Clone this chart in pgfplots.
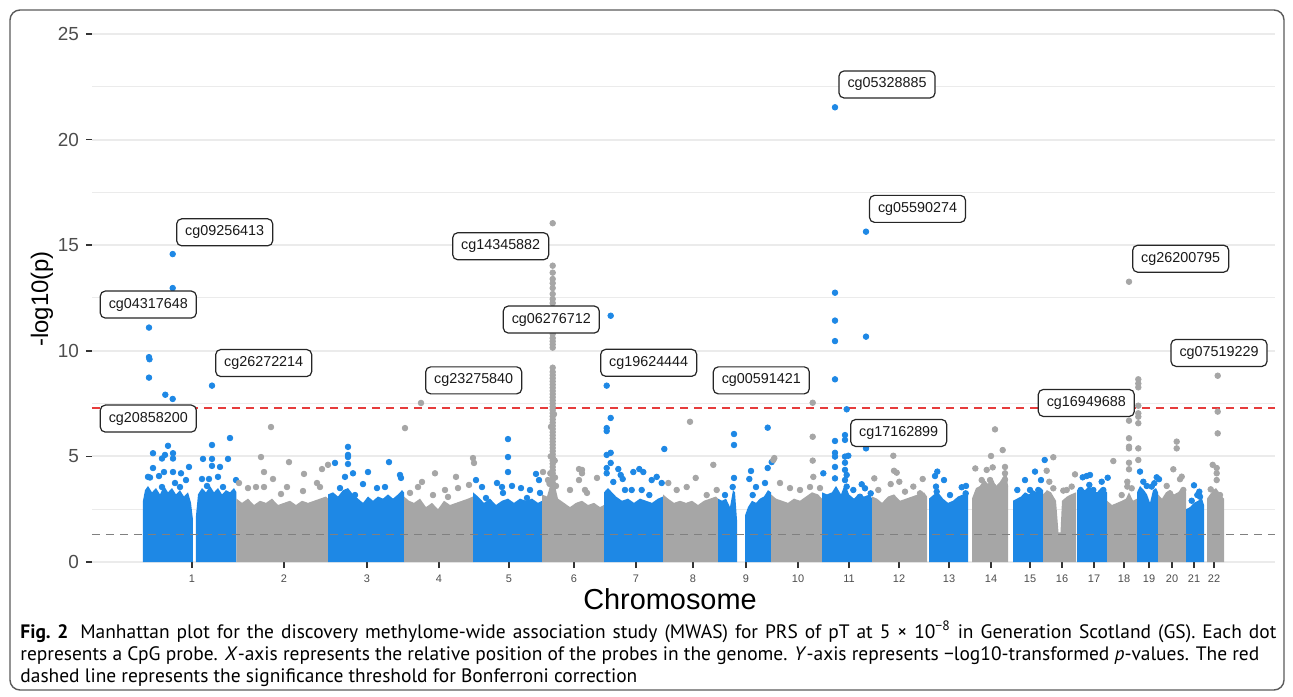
\documentclass[border=0pt]{standalone}
\usepackage{pgfplots}
\pgfplotsset{compat=1.18}
\usepackage{fontspec}
\setmainfont{Liberation Sans}
\newfontfamily\capfont{PT Sans}
\definecolor{dotblue}{RGB}{30,136,229}
\definecolor{dotgray}{RGB}{166,166,166}
\definecolor{gridgray}{RGB}{235,235,235}
\definecolor{tickgray}{RGB}{77,77,77}
\definecolor{sigred}{RGB}{230,60,60}
\definecolor{boxgray}{RGB}{90,90,90}

\begin{document}
\begin{tikzpicture}
% page = 1293 x 697 px at 0.5bp per px; axis SW corner = pixel (92,562)
\path[use as bounding box] (-46bp,281bp) rectangle (600.5bp,-67.5bp);
\begin{axis}[
    scale only axis,
    width=591.5bp, height=264bp,
    xmin=92, xmax=1275, ymin=0, ymax=25,
    axis lines*=left,
    axis line style={draw=none},
    tick align=outside,
    major tick length=3bp,
    minor tick length=0pt,
    tick style={draw=black!80, line width=0.8bp},
    xtick={192,284,367,439,509,574,636,693,746,798,849,899,949,991,1030,1062,1094,1124,1149,1172,1194,1214},
    xticklabels={1,2,3,4,5,6,7,8,9,10,11,12,13,14,15,16,17,18,19,20,21,22},
    ytick={0,5,10,15,20,25},
    minor ytick={2.5,7.5,12.5,17.5,22.5},
    ymajorgrids, yminorgrids,
    major grid style={draw=gridgray, line width=1bp},
    minor grid style={draw=gridgray, line width=0.5bp},
    /pgf/number format/assume math mode=true,
    x tick label style={font=\fontsize{5.5}{6}\selectfont, text=tickgray},
    y tick label style={font=\fontsize{9.5}{10}\selectfont, text=tickgray},
    clip=false,
]
% dense bands (x in pixel units, y = -log10 p)
\addplot[fill=dotblue, draw=none] coordinates {(143,2.9)(145,3.4)(148,3.6)(152,3.3)(156,3.5)(160,3.2)(164,3.6)(168,3.3)(172,3.5)(176,3.2)(180,3.4)(184,3.1)(188,3.3)(191,2.8)(193,2.0)} \closedcycle;
\addplot[fill=dotblue, draw=none] coordinates {(196,2.2)(198,3.2)(202,3.5)(206,3.3)(210,3.6)(214,3.3)(218,3.5)(222,3.2)(226,3.4)(230,3.3)(234,3.5)(236.5,3.3)} \closedcycle;
\addplot[fill=dotgray, draw=none] coordinates {(236.5,3.0)(242,2.8)(248,3.0)(254,2.7)(260,2.9)(266,2.8)(272,3.0)(278,2.7)(284,2.8)(290,2.9)(296,2.7)(302,2.9)(308,2.8)(314,2.9)(320,3.0)(326,3.1)(328,3.0)} \closedcycle;
\addplot[fill=dotblue, draw=none] coordinates {(328,3.2)(333,3.3)(338,3.1)(343,3.4)(348,3.5)(353,3.2)(358,3.0)(363,2.8)(368,3.1)(373,2.9)(378,3.1)(383,3.0)(388,3.2)(393,3.0)(398,3.2)(402,3.4)(404,3.3)} \closedcycle;
\addplot[fill=dotgray, draw=none] coordinates {(404,3.1)(409,2.9)(414,2.8)(420,3.0)(426,2.6)(432,2.8)(438,2.5)(444,2.9)(450,2.7)(456,2.8)(462,2.9)(468,3.0)(473,3.1)} \closedcycle;
\addplot[fill=dotblue, draw=none] coordinates {(473,3.3)(478,3.1)(484,2.8)(490,3.0)(496,2.7)(502,2.9)(508,3.0)(514,2.8)(520,3.0)(526,2.9)(532,3.0)(538,2.8)(542,2.9)} \closedcycle;
\addplot[fill=dotgray, draw=none] coordinates {(542,3.2)(547,3.1)(550,3.6)(552.7,5.0)(555,3.6)(558,3.0)(564,2.8)(570,2.6)(576,2.8)(582,2.9)(588,2.7)(594,2.8)(600,2.6)(604,2.7)} \closedcycle;
\addplot[fill=dotblue, draw=none] coordinates {(604,3.3)(608,3.5)(612,3.3)(616,3.1)(622,2.9)(628,3.0)(634,2.8)(640,3.0)(646,2.9)(652,2.8)(658,3.0)(663,3.1)} \closedcycle;
\addplot[fill=dotgray, draw=none] coordinates {(663,3.2)(668,3.0)(674,2.8)(680,2.9)(686,2.8)(692,2.9)(698,2.7)(704,2.9)(710,3.0)(716,3.1)(718,3.0)} \closedcycle;
\addplot[fill=dotblue, draw=none] coordinates {(718,3.0)(722,2.9)(726,3.0)(730,2.6)(733,3.4)(735,3.3)(737,2.0)} \closedcycle;
\addplot[fill=dotblue, draw=none] coordinates {(745,2.2)(748,2.6)(752,2.9)(756,2.8)(760,3.0)(764,3.1)(768,3.4)(771,3.3)} \closedcycle;
\addplot[fill=dotgray, draw=none] coordinates {(771,3.2)(776,3.0)(782,2.9)(788,2.8)(794,3.0)(800,2.9)(806,3.1)(812,3.3)(818,3.2)(822,3.0)} \closedcycle;
\addplot[fill=dotblue, draw=none] coordinates {(822,3.3)(827,3.2)(832,3.3)(836,3.6)(841,3.2)(845,3.7)(849,3.2)(854,3.0)(858,3.2)(864,3.1)(870,3.2)(872,3.0)} \closedcycle;
\addplot[fill=dotgray, draw=none] coordinates {(872,3.1)(877,3.0)(882,2.8)(888,3.1)(894,3.2)(900,2.9)(906,3.0)(912,3.1)(918,3.2)(924,3.3)(927,3.1)} \closedcycle;
\addplot[fill=dotblue, draw=none] coordinates {(929,3.0)(934,3.2)(938,3.3)(943,3.0)(948,2.8)(953,2.9)(958,3.1)(963,3.2)(968,3.3)} \closedcycle;
\addplot[fill=dotgray, draw=none] coordinates {(972,3.0)(976,3.5)(980,3.6)(984,3.9)(988,3.7)(992,4.0)(996,3.6)(1000,3.8)(1004,4.1)(1006,4.4)(1008,3.6)} \closedcycle;
\addplot[fill=dotblue, draw=none] coordinates {(1013,2.9)(1017,3.0)(1021,3.1)(1025,3.3)(1029,3.2)(1033,3.4)(1037,3.3)(1041,3.5)(1043,3.4)} \closedcycle;
\addplot[fill=dotgray, draw=none] coordinates {(1043,3.2)(1047,3.4)(1051,3.3)(1056,2.9)(1058.5,1.4)(1060.5,1.4)(1062,2.9)(1067,3.1)(1071,3.2)(1076,3.3)} \closedcycle;
\addplot[fill=dotblue, draw=none] coordinates {(1077,3.4)(1081,3.5)(1085,3.4)(1089,3.6)(1093,3.4)(1097,3.3)(1101,3.5)(1105,3.4)(1107,3.3)} \closedcycle;
\addplot[fill=dotgray, draw=none] coordinates {(1107,2.9)(1112,2.7)(1117,2.8)(1122,2.9)(1126,3.0)(1129,3.3)(1133,2.9)(1137,3.0)} \closedcycle;
\addplot[fill=dotblue, draw=none] coordinates {(1137,3.3)(1140,3.6)(1144,3.4)(1147,3.2)(1150,2.8)(1153,3.4)(1156,3.5)(1158,3.3)} \closedcycle;
\addplot[fill=dotgray, draw=none] coordinates {(1158,3.2)(1162,3.0)(1166,3.3)(1170,3.4)(1174,3.2)(1178,3.3)(1182,3.5)(1186,3.3)} \closedcycle;
\addplot[fill=dotblue, draw=none] coordinates {(1186,2.5)(1190,2.6)(1194,2.8)(1198,2.9)(1202,3.0)(1204,2.7)} \closedcycle;
\addplot[fill=dotgray, draw=none] coordinates {(1207,3.0)(1210,3.2)(1213,3.4)(1216,3.5)(1219,3.3)(1222,3.1)(1224,3.0)} \closedcycle;

% individual probes above the bands
\addplot[only marks, mark=*, mark size=1.4pt, color=dotblue] coordinates {
(172.7,14.58)(172.7,12.97)(149,11.1)(149,9.7)(149.5,9.6)(149,8.73)(165.3,7.92)(172.7,7.72)(212,8.35)
(168,5.5)(153,5.15)(162,4.9)(165,5.07)(173,5.15)(173,4.9)(153,4.45)(159,4.07)(164,4.26)(173,4.26)(181,4.2)(186,3.88)(189,4.5)(162,3.55)(175,3.74)(180,3.55)(150,4.0)(148,4.03)
(212,5.54)(230,5.87)(203,4.88)(212,4.88)(228,4.88)(212,4.55)(220,4.5)(202,3.93)(209,3.93)(218,4.03)(236,3.88)(207,3.6)(223,3.55)
(348,5.45)(348,5.07)(348,4.64)(335,4.69)(389,4.73)(400,4.12)(401,3.98)(368,4.26)(345,4.03)(353,4.2)(363,3.69)(377,3.5)(385,3.55)(355,3.17)(340,3.5)(348,4.97)
(508,5.82)(508,4.97)(508,4.26)(476,3.88)(482,3.55)(497,3.74)(502,3.55)(512,3.6)(521,3.5)(530,3.41)(536,4.17)(539,3.88)(486,3.03)(503,3.27)(527,3.03)(540,3.27)
(610.7,11.66)(606.7,8.35)(610.7,6.82)(606.7,6.34)(606.7,6.2)(606.7,5.07)(610.7,5.17)(610.7,4.69)(606.7,4.45)(606.7,4.2)(618.3,4.4)(620.7,4.12)(622.7,3.93)(613.3,3.79)(633.3,4.26)(639.3,4.4)(643.3,4.26)(664.3,5.35)(651.7,3.88)(656.7,4.03)(625,3.41)(631.7,3.41)(641.7,3.41)(661.7,3.74)(649.3,3.17)
(734,6.06)(734,5.54)(734,3.98)(732.7,3.55)(767.7,6.36)(751,4.31)(749.3,3.93)(767.7,4.45)(771.7,4.73)(765,3.74)(756,3.55)(752.7,3.17)(725,3.17)
(835,21.53)(835,12.75)(835,11.43)(835,10.46)(835,8.65)(846.7,7.23)(866,15.64)(866,10.67)(835,5.73)(845,6.01)(845,5.78)(835,5.17)(835,4.99)(845,4.99)(848.3,5.03)(866,5.38)(823.3,4.2)(835,3.96)(845,4.36)(846.7,4.12)(845,3.88)(846.7,3.57)(861.7,3.68)(865,3.49)(870.7,3.25)(853.3,3.41)(860,3.09)(835,4.5)(845,4.7)
(937.3,4.28)(935,4.07)(944,3.88)(936,3.57)(936.7,3.33)(961.7,3.54)(966,3.6)(950,3.17)(965.7,3.25)
(1044.7,4.83)(1035,4.28)(1041,3.88)(1025,3.88)(1017.3,3.41)(1030,3.41)(1038.3,3.41)
(1082.7,4.01)(1086.7,4.07)(1090,4.12)(1080.7,3.41)(1089.3,3.65)(1093.3,3.41)(1101.7,3.8)(1107.7,3.99)(1103.3,3.41)
(1140,4.28)(1143.3,3.8)(1146.7,3.6)(1156.7,4.01)(1159,3.92)(1151.7,3.57)(1154.3,3.73)
(1194,3.63)(1191.7,2.9)(1199.3,3.33)(1200,3.09)(1197.3,3.17)
};
\addplot[only marks, mark=*, mark size=1.4pt, color=dotgray] coordinates {
(271,6.39)(261,4.97)(289,4.73)(264,4.26)(304,4.17)(328,4.6)(322,4.4)(239,3.74)(248,3.5)(256,3.55)(273,3.93)(264,3.55)(287,3.55)(317,3.74)(320,3.55)(303,3.36)(281,3.22)
(421,7.53)(405,6.34)(435,4.2)(456,4.03)(422,3.79)(418,3.55)(445,3.41)(469,3.65)(473,4.92)(474,4.69)(410,3.27)(433,3.17)(448,3.08)(458,3.5)
(552.7,16.04)(552.7,14.03)(552.7,13.7)(552.7,13.4)(552.7,13.2)(552.7,12.97)(552.7,12.69)(552.7,12.45)(552.7,12.26)(552.7,12.0)(552.7,11.8)(552.7,11.6)(552.7,11.4)(552.7,11.2)(552.7,11.0)(552.7,10.8)(552.7,10.6)(552.7,10.45)(552.7,10.3)(552.7,10.15)
(552.7,9.2)(552.7,9.0)(552.7,8.85)(552.7,8.7)(552.7,8.55)(552.7,8.4)(552.7,8.25)(552.7,8.1)(552.7,7.95)(552.7,7.8)(552.7,7.65)(552.7,7.5)(552.7,7.35)(552.7,7.2)(552.7,7.05)(552.7,6.9)(552.7,6.75)(552.7,6.6)(552.7,6.45)(552.7,6.3)(552.7,6.15)(552.7,6.0)(552.7,5.85)(552.7,5.7)(552.7,5.55)(552.7,5.4)(552.7,5.25)(552.7,5.1)(552.7,4.95)(552.7,4.8)(552.7,4.65)(552.7,4.5)(552.7,4.35)(552.7,4.2)(552.7,4.05)(552.7,3.9)(552.7,3.75)(552.7,3.6)(552.7,3.45)(552.7,3.3)
(550.7,5.0)(554.7,4.8)(550.3,4.2)(555,4.0)(549.5,3.7)(556,3.6)(551,6.4)(554,7.0)
(579,4.4)(582,4.2)(579,3.88)(543,4.26)(548,3.88)(570,3.41)(585,3.41)(582,4.36)(597,3.98)(587,3.27)
(690,6.64)(713.3,4.6)(695.7,3.98)(686.7,3.55)(676.7,3.41)(668.3,3.74)(706.7,3.17)(716.7,3.41)
(812.7,7.54)(812.7,5.93)(812.7,4.8)(773.3,4.83)(774.3,4.92)(813.3,4.03)(810,3.55)(820,3.5)(780,3.74)(790,3.5)(800,3.41)
(893.3,5.03)(894,4.32)(896.7,4.23)(874.3,3.96)(899.3,3.8)(922.7,3.93)(890.7,3.69)(913.3,3.57)(878.3,3.41)(905,3.33)(920,3.25)
(995,6.28)(1002.7,5.3)(991,5.02)(975.3,4.43)(986.7,4.36)(992.7,4.48)(1005,4.5)(1005,4.2)(1005,3.9)(1005,3.6)(981.7,3.88)(990,3.88)(993.3,3.57)(983.3,3.57)(1001.7,3.57)
(1053.3,4.96)(1046.7,4.32)(1049.3,3.8)(1053.3,3.49)(1063.3,3.38)(1066.7,3.41)(1075,4.15)(1071.7,3.57)
(1129,13.27)(1138.3,8.65)(1138.3,8.45)(1138.3,8.27)(1138.3,7.4)(1138.3,7.04)(1138.3,6.88)(1138.3,6.57)(1129,6.69)(1138.3,5.38)(1138.3,4.83)(1129,5.86)(1129,5.46)(1129,5.38)(1129,4.7)(1129,4.39)(1113.3,4.78)(1127.3,3.8)(1127.3,3.57)(1121.7,3.17)(1131.7,3.49)
(1176.7,5.7)(1176.7,5.38)(1173.3,4.39)(1181.7,4.04)(1180,3.92)(1166.7,3.6)(1170,3.25)(1183.3,3.41)
(1217.7,8.82)(1217.7,7.12)(1217.7,6.09)(1212.7,4.6)(1216.7,4.45)(1216.7,4.2)(1216.7,3.88)(1220,3.17)(1210.7,3.44)
};

% thresholds
\addplot[draw=gray, line width=0.6bp, dash pattern=on 4bp off 3bp] coordinates {(92,1.3)(1275,1.3)};
\addplot[draw=sigred, line width=0.75bp, dash pattern=on 4bp off 3bp] coordinates {(92,7.3)(1275,7.3)};

% anchor points for the probe labels (drawn after the axis, on top)
\coordinate (L1) at (axis cs:224.7,15.61);
\coordinate (L2) at (axis cs:148.3,12.19);
\coordinate (L3) at (axis cs:263.7,9.42);
\coordinate (L4) at (axis cs:148.3,6.79);
\coordinate (L5) at (axis cs:500.7,14.95);
\coordinate (L6) at (axis cs:551.3,11.48);
\coordinate (L7) at (axis cs:473.7,8.6);
\coordinate (L8) at (axis cs:648.7,9.43);
\coordinate (L9) at (axis cs:761.3,8.6);
\coordinate (L10) at (axis cs:887,22.61);
\coordinate (L11) at (axis cs:917.5,16.72);
\coordinate (L12) at (axis cs:898.7,6.11);
\coordinate (L13) at (axis cs:1086.3,7.53);
\coordinate (L14) at (axis cs:1180.7,14.36);
\coordinate (L15) at (axis cs:1219,9.9);
\end{axis}

\tikzset{lbl/.style={draw=black!85, fill=white, rounded corners=2.5bp, line width=0.6bp,
  minimum width=48bp, minimum height=13.5bp, inner sep=0pt, text=black!90,
  font=\fontsize{7.2}{8}\selectfont}}
\node[lbl] at (L1) {cg09256413};
\node[lbl] at (L2) {cg04317648};
\node[lbl] at (L3) {cg26272214};
\node[lbl] at (L4) {cg20858200};
\node[lbl] at (L5) {cg14345882};
\node[lbl] at (L6) {cg06276712};
\node[lbl] at (L7) {cg23275840};
\node[lbl] at (L8) {cg19624444};
\node[lbl] at (L9) {cg00591421};
\node[lbl] at (L10) {cg05328885};
\node[lbl] at (L11) {cg05590274};
\node[lbl] at (L12) {cg17162899};
\node[lbl] at (L13) {cg16949688};
\node[lbl] at (L14) {cg26200795};
\node[lbl] at (L15) {cg07519229};

% axis titles
\node[anchor=base, font=\fontsize{14.5}{16}\selectfont] at (289bp,-23.5bp) {Chromosome};
\node[rotate=90, font=\fontsize{12}{14}\selectfont] at (-25bp,131.5bp) {-log10(p)};

% caption
\begin{scope}[every node/.style={anchor=base west, inner sep=0pt, font=\capfont\fontsize{9.76}{11}\selectfont}]
\node at (-36bp,-38bp) {\makebox[628bp][s]{\textbf{\mbox{Fig. 2}}\hspace{6bp}Manhattan plot for the discovery methylome-wide association study (MWAS) for PRS of pT at 5 × 10\textsuperscript{−8} in Generation Scotland (GS). Each dot}};
\node at (-36bp,-49bp) {represents a CpG probe. \textit{X}-axis represents the relative position of the probes in the genome. \textit{Y}-axis represents −log10-transformed \textit{p}-values. The red};
\node at (-36bp,-60bp) {dashed line represents the significance threshold for Bonferroni correction};
\end{scope}

% frame
\draw[boxgray, line width=0.7bp, rounded corners=5bp] (-41bp,276bp) rectangle (596bp,-64bp);
\end{tikzpicture}
\end{document}
